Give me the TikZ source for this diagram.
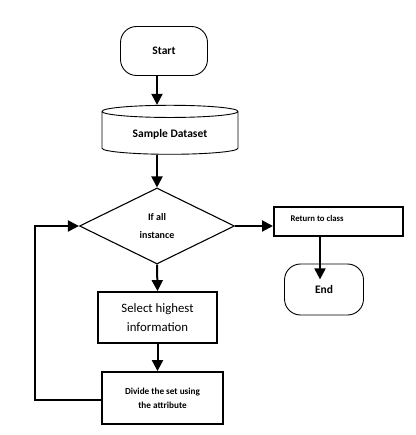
\documentclass[tikz,border=0pt]{standalone}
\usepackage{fontspec}
\setmainfont{Carlito}
\usetikzlibrary{shapes.geometric,arrows.meta}

\tikzset{
    flow/.style={-{Triangle[length=11pt,width=11pt]}, line width=2pt},
    terminal/.style={draw, line width=0.9pt, rounded corners=16pt, font=\bfseries\fontsize{11.5}{13}\selectfont},
    box/.style={draw, line width=1.8pt, align=center},
}

\begin{document}
\begin{tikzpicture}[x=1pt, y=-1pt]
    \useasboundingbox (0,0) rectangle (415,435);
    \node[terminal, minimum width=87pt, minimum height=49pt] (start) at (164,51) {Start};
    \node[draw, line width=0.9pt, cylinder, shape border rotate=90, aspect=0.15,
          minimum width=136pt, minimum height=49pt,
          font=\bfseries\fontsize{11.5}{13}\selectfont] (data) at (170,134) {Sample Dataset};
    \node[draw, line width=1.1pt, diamond, aspect=2.05, minimum width=155pt, minimum height=76pt,
          inner sep=0pt, align=center, font=\bfseries\fontsize{10}{18}\selectfont] (cond) at (157,226) {If all\\instance};
    \node[box, minimum width=129pt, minimum height=29pt, anchor=west] (ret) at (273,221.5) {};
    \node[anchor=west, font=\bfseries\fontsize{8.7}{10}\selectfont] at (287,218) {Return to class};
    \node[terminal, minimum width=79pt, minimum height=51pt] (end) at (324,289.5) {End};
    \node[box, minimum width=119pt, minimum height=51pt, font=\fontsize{12.8}{19}\selectfont] (sel) at (157.5,317.5) {Select highest\\information};
    \node[box, minimum width=121pt, minimum height=52pt, font=\bfseries\fontsize{9.2}{14}\selectfont] (div) at (162.5,398) {Divide the set using\\the attribute};

    % main line
    \draw[flow] (start.south -| cond.north) -- (data.north -| cond.north);
    \draw[flow] (data.south -| cond.north) -- (cond.north);
    \draw[flow] (cond.south) -- (sel.north);
    \draw[flow] (sel.south) -- (sel.south |- div.north);
    % exit branch
    \draw[flow] (cond.east) -- (cond.east -| ret.west);
    \draw[flow] (ret.south -| end.north) ++(-4,0) -- ++(0,42.5);
    % loop back
    \coordinate (back) at (35,400);
    \draw[flow] (div.west |- back) -- (back) -- (back |- cond.west) -- (cond.west);
\end{tikzpicture}
\end{document}
